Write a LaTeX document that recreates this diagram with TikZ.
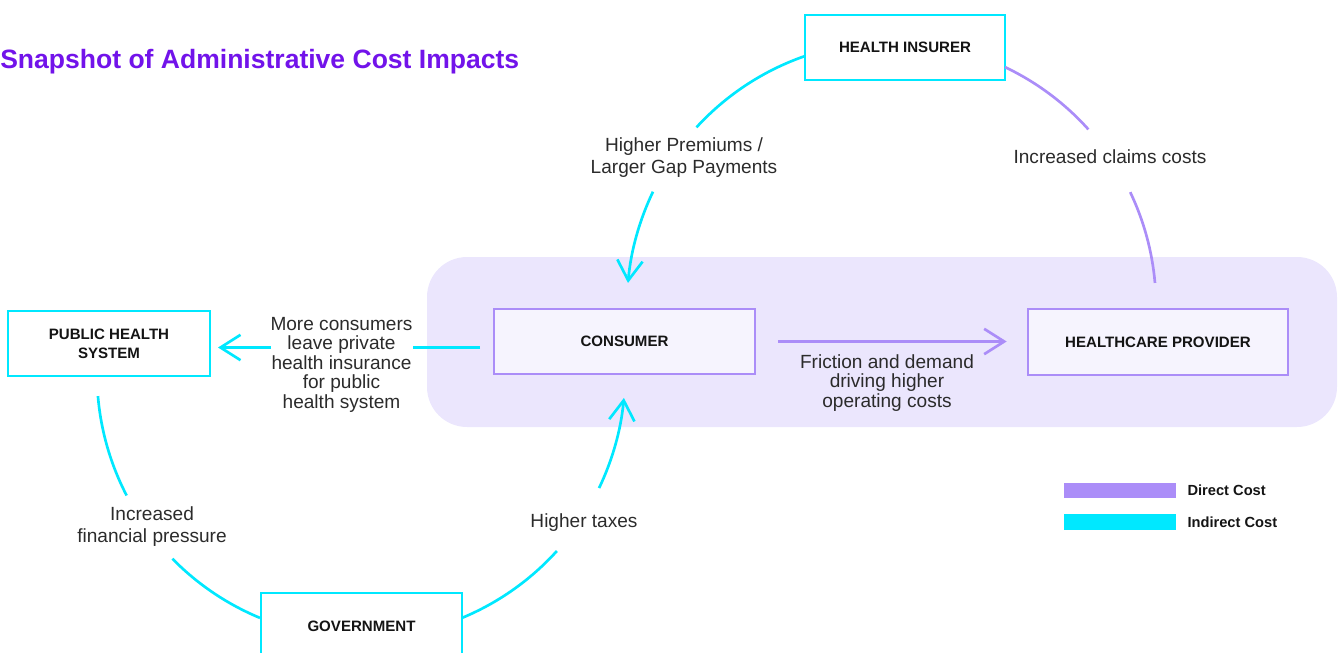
\documentclass[tikz,border=0pt]{standalone}
\usepackage{fontspec}
\setmainfont{Liberation Sans}
\usetikzlibrary{arrows.meta}
\definecolor{cyanC}{HTML}{00E8FF}
\definecolor{purpleC}{HTML}{AB8DF8}
\definecolor{bgC}{HTML}{EBE6FD}
\definecolor{consFill}{HTML}{F6F4FE}
\definecolor{titleC}{HTML}{7213EA}
\definecolor{textC}{HTML}{2B2B2B}
\definecolor{boldC}{HTML}{141414}
\begin{document}
\begin{tikzpicture}[x=0.75pt,y=-0.75pt,
  box/.style={draw, line width=2pt, inner sep=0pt, align=center,
    font=\bfseries\fontsize{11.3}{14.3}\selectfont, text=boldC},
  cbox/.style={box, draw=cyanC, fill=white},
  pbox/.style={box, draw=purpleC, fill=consFill},
  lbl/.style={align=center, inner sep=0pt, text=textC,
    font=\fontsize{14.3}{16.5}\selectfont},
  lbltight/.style={lbl, font=\fontsize{14.3}{14.6}\selectfont},
  conn/.style={line width=2pt},
  tip/.style={-{Straight Barb[length=15pt,width=19pt]}},
  legbar/.style={inner sep=0pt, minimum width=84pt, minimum height=11.5pt},
  legtxt/.style={anchor=west, inner sep=0pt, text=boldC,
    font=\bfseries\fontsize{11}{13}\selectfont}
]
\useasboundingbox (0,0) rectangle (1340,653);

% background panel
\fill[bgC, rounded corners=30pt] (427,257) rectangle (1337,427);

% title
\node[anchor=base west, inner sep=0pt, text=titleC,
  font=\bfseries\fontsize{19.9}{24}\selectfont] (title) at (0,68)
  {Snapshot of Administrative Cost Impacts};

% boxes
\node[cbox, minimum width=150pt, minimum height=48.75pt] (hi) at (905,47.5) {HEALTH INSURER};
\node[cbox, minimum width=151.5pt, minimum height=48.75pt] (phs) at (109,343.5) {PUBLIC HEALTH\\SYSTEM};
\node[pbox, minimum width=195.75pt, minimum height=48.75pt] (cons) at (624.5,341.5) {CONSUMER};
\node[pbox, minimum width=195pt, minimum height=49.5pt] (hcp) at (1158,342) {HEALTHCARE PROVIDER};
\node[cbox, minimum width=150.75pt, minimum height=49.5pt] (gov) at (361.5,626) {GOVERNMENT};

% labels
\node[lbl] (lp) at (684,157.5) {Higher Premiums /\\Larger Gap Payments};
\node[lbl] (lc) at (1110,157) {Increased claims costs};
\node[lbltight] (lm) at (341.5,364.5) {More consumers\\leave private\\health insurance\\for public\\health system};
\node[lbltight] (lf) at (887,383) {Friction and demand\\driving higher\\operating costs};
\node[lbl] (lfp) at (152,526.5) {Increased\\financial pressure};
\node[lbl] (lt) at (584,523) {Higher taxes};

% top circle arcs
\coordinate (c1) at (891.5,306);
\draw[conn, cyanC] (c1) ++(-109.1:264.5) arc[start angle=-109.1, end angle=-137.5, radius=264.5];
\draw[conn, cyanC, tip] (c1) ++(-154.4:264.5) arc[start angle=-154.4, end angle=-175, radius=264.5];
\draw[conn, purpleC] (c1) ++(-64.6:264.5) arc[start angle=-64.6, end angle=-41.9, radius=264.5];
\draw[conn, purpleC] (c1) ++(-25.5:264.5) arc[start angle=-25.5, end angle=-5, radius=264.5];

% bottom circle arcs
\coordinate (c2) at (361,374);
\draw[conn, cyanC] (c2) ++(175.2:264) arc[start angle=175.2, end angle=152.6, radius=264];
\draw[conn, cyanC] (c2) ++(135.6:264) arc[start angle=135.6, end angle=112.5, radius=264];
\draw[conn, cyanC] (c2) ++(67.4:264) arc[start angle=67.4, end angle=42.1, radius=264];
\draw[conn, cyanC, tip] (c2) ++(25.6:264) arc[start angle=25.6, end angle=5.2, radius=264];

% horizontal connectors
\coordinate (m1) at (480,347.5);
\coordinate (m2) at (413,347.5);
\coordinate (m3) at (271,347.5);
\draw[conn, cyanC] (m1) -- (m2);
\draw[conn, cyanC, tip, shorten >=5pt] (m3) -- (phs.east |- m3);
\draw[conn, purpleC, tip, shorten >=15pt] ([xshift=16.5pt]cons.east) -- (hcp.west |- cons.east);

% legend
\node[legbar, fill=purpleC] (ld) at (1120,490.5) {};
\node[legbar, fill=cyanC] (li) at (1120,522) {};
\node[legtxt] (ldt) at ([xshift=8.25pt]ld.east) {Direct Cost};
\node[legtxt] (lit) at ([xshift=8.25pt]li.east) {Indirect Cost};
\end{tikzpicture}
\end{document}
